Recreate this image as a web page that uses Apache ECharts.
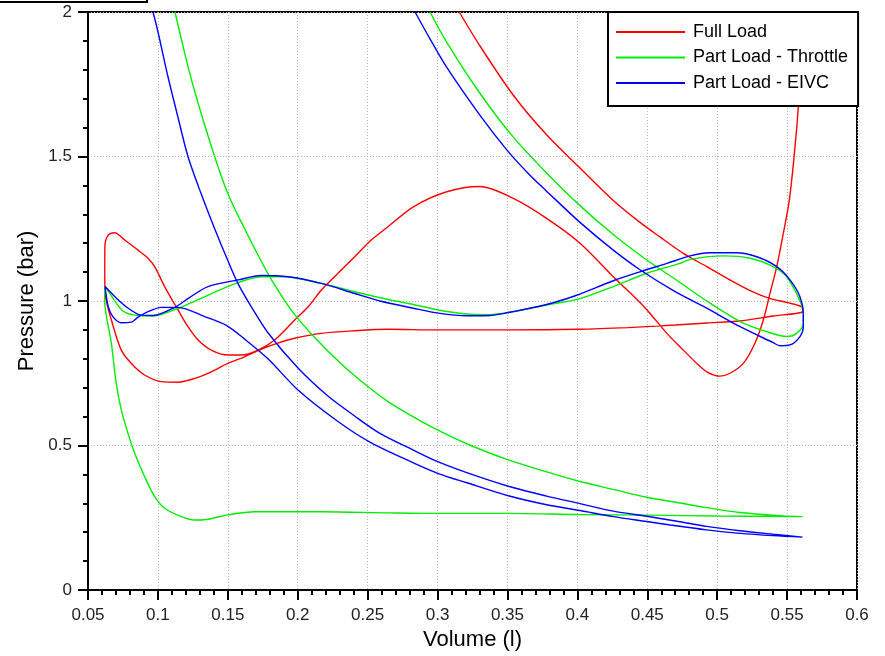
<!DOCTYPE html>
<html>
<head>
<meta charset="utf-8">
<title>Pressure - Volume</title>
<script src="https://cdn.jsdelivr.net/npm/echarts@6/dist/echarts.min.js"></script>
<style>
  html, body { margin: 0; padding: 0; background: #fff; }
  #chart { width: 885px; height: 656px; }
</style>
</head>
<body>
<div id="chart"></div>
<script>
// Cylinder pressure vs volume, low-pressure part of the cycle.
// Each loop is listed in crank order as [volume (l), pressure (bar)].

const seriesNames = ['Full Load', 'Part Load - Throttle', 'Part Load - EIVC'];
const seriesColors = ['#ff0000', '#00ee00', '#0000ff'];

const xTickLabels = ['0.05', '0.1', '0.15', '0.2', '0.25', '0.3', '0.35', '0.4', '0.45', '0.5', '0.55', '0.6'];
const yTickLabels = ['0', '0.5', '1', '1.5', '2'];

// Full load: end of expansion, blowdown, exhaust, intake, compression
const fullLoad = [
  [0.5605, 2.0], [0.558, 1.672], [0.555, 1.50], [0.5516, 1.349], [0.5473, 1.234],
  [0.5426, 1.119], [0.5378, 1.027], [0.533, 0.934], [0.527, 0.854], [0.5187, 0.784],
  [0.5092, 0.750], [0.502, 0.740], [0.4925, 0.755], [0.4854, 0.784], [0.4758, 0.830],
  [0.464, 0.888], [0.452, 0.957], [0.4448, 0.995], [0.4257, 1.084], [0.4019, 1.200],
  [0.378, 1.286], [0.3542, 1.355], [0.3304, 1.396], [0.3066, 1.378], [0.2827, 1.326],
  [0.2646, 1.257], [0.2526, 1.211], [0.2407, 1.153], [0.2288, 1.096], [0.2169, 1.038],
  [0.2075, 0.980], [0.1978, 0.934], [0.1835, 0.865], [0.1716, 0.830], [0.1597, 0.813],
  [0.150, 0.813], [0.1382, 0.830], [0.1287, 0.865], [0.1215, 0.911], [0.1144, 0.969],
  [0.1048, 1.050], [0.0977, 1.119], [0.0929, 1.148], [0.0858, 1.176], [0.0762, 1.211],
  [0.0691, 1.236], [0.0645, 1.228], [0.0621, 1.19], [0.0620, 1.10], [0.0622, 1.03],
  [0.0633, 0.995], [0.0667, 0.934], [0.0738, 0.830], [0.081, 0.784], [0.0905, 0.744],
  [0.1024, 0.721], [0.1144, 0.719], [0.1263, 0.732], [0.1382, 0.755], [0.150, 0.784],
  [0.162, 0.807], [0.1716, 0.828], [0.1835, 0.851], [0.1978, 0.871], [0.2169, 0.888],
  [0.2407, 0.897], [0.2646, 0.902], [0.30, 0.900], [0.35, 0.900], [0.40, 0.902],
  [0.436, 0.908], [0.47, 0.917], [0.493, 0.924], [0.516, 0.931], [0.540, 0.948],
  [0.561, 0.962], [0.5615, 0.975], [0.550, 0.995], [0.538, 1.008], [0.5235, 1.036],
  [0.509, 1.073], [0.4925, 1.119], [0.4758, 1.165], [0.459, 1.222], [0.4448, 1.272],
  [0.4257, 1.348], [0.4019, 1.460], [0.378, 1.575], [0.3542, 1.712], [0.3304, 1.882],
  [0.3155, 2.0]
];

// Throttled part load: expansion, exhaust, intake, compression
const partThrottle = [
  [0.2946, 2.0], [0.3066, 1.895], [0.3304, 1.718], [0.3542, 1.567], [0.378, 1.443],
  [0.4019, 1.330], [0.4257, 1.230], [0.4496, 1.142], [0.4734, 1.064], [0.4925, 1.000],
  [0.5164, 0.929], [0.5354, 0.894], [0.5497, 0.877], [0.5568, 0.888], [0.5616, 0.923],
  [0.5616, 0.957], [0.559, 1.003], [0.5497, 1.084], [0.540, 1.119], [0.5235, 1.148],
  [0.5044, 1.156], [0.4806, 1.144], [0.4734, 1.130], [0.4496, 1.096], [0.4257, 1.050],
  [0.4019, 1.008], [0.3828, 0.990], [0.3661, 0.975], [0.3506, 0.960], [0.3375, 0.953],
  [0.3209, 0.955], [0.3006, 0.969], [0.2827, 0.988], [0.2646, 1.005], [0.2407, 1.032],
  [0.2169, 1.061], [0.1907, 1.084], [0.174, 1.084], [0.1525, 1.055], [0.1335, 1.015],
  [0.1144, 0.975], [0.0967, 0.948], [0.0824, 0.952], [0.0741, 0.969], [0.0622, 1.05],
  [0.0619, 1.003], [0.0667, 0.854], [0.0702, 0.715], [0.0738, 0.623], [0.0786, 0.542],
  [0.0834, 0.473], [0.0905, 0.392], [0.0977, 0.323], [0.1048, 0.283], [0.1167, 0.254],
  [0.1263, 0.242], [0.1358, 0.245], [0.150, 0.260], [0.1692, 0.271], [0.2169, 0.271],
  [0.2646, 0.267], [0.30, 0.265], [0.35, 0.265], [0.40, 0.261], [0.45, 0.259],
  [0.50, 0.256], [0.561, 0.254], [0.547, 0.256], [0.5164, 0.268], [0.4925, 0.285],
  [0.4734, 0.301], [0.4496, 0.321], [0.4257, 0.348], [0.4007, 0.377], [0.378, 0.409],
  [0.3506, 0.450], [0.3209, 0.506], [0.3006, 0.552], [0.2827, 0.599], [0.2646, 0.652],
  [0.2479, 0.713], [0.2312, 0.782], [0.2121, 0.874], [0.1978, 0.953], [0.1915, 0.995],
  [0.1787, 1.095], [0.162, 1.250], [0.150, 1.372], [0.1406, 1.50], [0.1287, 1.685],
  [0.1215, 1.812], [0.1122, 2.0]
];

// Early intake valve closing: expansion, exhaust, intake, compression
const partEivc = [
  [0.2839, 2.0], [0.2946, 1.907], [0.3066, 1.808], [0.3304, 1.642], [0.3495, 1.523],
  [0.3661, 1.435], [0.378, 1.380], [0.4019, 1.272], [0.4257, 1.176], [0.4448, 1.108],
  [0.4687, 1.036], [0.4925, 0.975], [0.5164, 0.911], [0.540, 0.856], [0.5449, 0.845],
  [0.5521, 0.848], [0.5592, 0.877], [0.5616, 0.911], [0.5616, 0.957], [0.5592, 1.015],
  [0.5521, 1.073], [0.5426, 1.119], [0.5283, 1.153], [0.514, 1.167], [0.4949, 1.167],
  [0.4806, 1.156], [0.464, 1.130], [0.4448, 1.101], [0.4257, 1.070], [0.3995, 1.020],
  [0.3828, 0.994], [0.3661, 0.975], [0.3506, 0.960], [0.3375, 0.950], [0.3209, 0.949],
  [0.3006, 0.958], [0.2827, 0.975], [0.2588, 1.000], [0.2407, 1.026], [0.2169, 1.061],
  [0.193, 1.084], [0.174, 1.088], [0.1573, 1.073], [0.1358, 1.050], [0.122, 1.010],
  [0.112, 0.978], [0.0967, 0.950], [0.0872, 0.952], [0.0788, 0.975], [0.0705, 1.009],
  [0.0622, 1.05], [0.0645, 0.980], [0.0679, 0.945], [0.0738, 0.925], [0.081, 0.927],
  [0.0858, 0.944], [0.0929, 0.963], [0.1024, 0.978], [0.1144, 0.978], [0.1335, 0.946],
  [0.1492, 0.915], [0.1621, 0.868], [0.1787, 0.800], [0.2002, 0.692], [0.2288, 0.583],
  [0.2526, 0.509], [0.2827, 0.440], [0.3006, 0.403], [0.3209, 0.371],
  [0.3506, 0.326], [0.378, 0.295], [0.4019, 0.275], [0.4257, 0.254], [0.4496, 0.237],
  [0.4663, 0.225], [0.4925, 0.208], [0.5164, 0.196], [0.540, 0.188], [0.561, 0.183],
  [0.540, 0.193], [0.5164, 0.205], [0.4925, 0.220], [0.4734, 0.236], [0.4496, 0.255],
  [0.4257, 0.273], [0.4019, 0.299], [0.378, 0.325], [0.3506, 0.359], [0.3209, 0.406],
  [0.3006, 0.443], [0.2827, 0.484], [0.2588, 0.542], [0.2407, 0.602], [0.2216, 0.671],
  [0.2002, 0.768], [0.1787, 0.890], [0.1668, 0.980], [0.1573, 1.060], [0.150, 1.140],
  [0.1406, 1.250], [0.131, 1.370], [0.1215, 1.50], [0.1144, 1.635], [0.1072, 1.776],
  [0.1001, 1.930], [0.0965, 2.0]
];

const loops = [fullLoad, partThrottle, partEivc];

const FONT = "'Liberation Sans', Arial, sans-serif";
const X_MIN = 0.05, X_MAX = 0.6, X_STEP = 0.05;
const Y_MIN = 0, Y_MAX = 2, Y_STEP = 0.5;

const chart = echarts.init(document.getElementById('chart'), null, { renderer: 'canvas' });

const option = {
  animation: false,
  backgroundColor: '#ffffff',
  textStyle: { fontFamily: FONT },
  grid: {
    left: 88, right: 28, top: 12, bottom: 66,
    show: true, borderColor: '#000', borderWidth: 2, backgroundColor: 'transparent'
  },
  legend: {
    orient: 'vertical',
    left: 608, top: 12,
    padding: [11, 10, 14, 8],
    icon: 'rect',
    itemWidth: 69, itemHeight: 2, itemGap: 7.5,
    backgroundColor: '#fff',
    borderColor: '#000', borderWidth: 2, borderRadius: 0,
    textStyle: { fontSize: 18, color: '#000', fontFamily: FONT, padding: [0, 0, 0, 3] },
    data: seriesNames
  },
  xAxis: {
    type: 'value',
    min: X_MIN, max: X_MAX, interval: X_STEP,
    name: 'Volume (l)', nameLocation: 'middle', nameGap: 39,
    nameTextStyle: { fontSize: 22, color: '#000', fontFamily: FONT },
    axisLine: { show: true, onZero: false, lineStyle: { color: '#000', width: 2 } },
    axisTick: { show: true, length: 10, lineStyle: { color: '#000', width: 2 } },
    minorTick: { show: true, splitNumber: 5, length: 5, lineStyle: { color: '#000', width: 2 } },
    axisLabel: {
      margin: 17, fontSize: 17, color: '#222', fontFamily: FONT,
      formatter: v => xTickLabels[Math.round((v - X_MIN) / X_STEP)]
    },
    splitLine: { show: true, lineStyle: { color: '#b8b8b8', width: 1, type: [1, 2] } }
  },
  yAxis: {
    type: 'value',
    min: Y_MIN, max: Y_MAX, interval: Y_STEP,
    name: 'Pressure (bar)', nameLocation: 'middle', nameGap: 44,
    nameTextStyle: { fontSize: 22, color: '#000', fontFamily: FONT },
    axisLine: { show: true, onZero: false, lineStyle: { color: '#000', width: 2 } },
    axisTick: { show: true, length: 10, lineStyle: { color: '#000', width: 2 } },
    minorTick: { show: true, splitNumber: 5, length: 5, lineStyle: { color: '#000', width: 2 } },
    axisLabel: {
      margin: 16, fontSize: 17, color: '#222', fontFamily: FONT,
      formatter: v => yTickLabels[Math.round((v - Y_MIN) / Y_STEP)]
    },
    splitLine: { show: true, lineStyle: { color: '#b8b8b8', width: 1, type: [1, 2] } }
  },
  graphic: [
    {
      type: 'rect', z: 100,
      shape: { x: -10, y: -20, width: 157, height: 22 },
      style: { fill: 'none', stroke: '#000', lineWidth: 2 }
    }
  ],
  series: loops.map((data, i) => ({
    name: seriesNames[i],
    type: 'line',
    data: data,
    symbol: 'none',
    smooth: 0.3,
    clip: true,
    color: seriesColors[i],
    lineStyle: { color: seriesColors[i], width: 1.4 },
    z: 2 + i
  }))
};

chart.setOption(option);
</script>
</body>
</html>
